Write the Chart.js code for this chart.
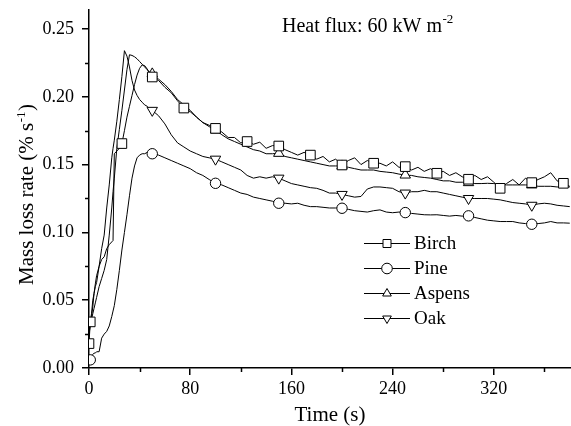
<!DOCTYPE html>
<html><head><meta charset="utf-8">
<script src="https://cdn.jsdelivr.net/npm/chart.js@4.4.0/dist/chart.umd.min.js"></script>
<style>html,body{margin:0;padding:0;background:#fff;overflow:hidden}</style>
</head><body>
<canvas id="c" width="571" height="426" style="display:block;width:571px;height:426px"></canvas>
<script>
const time = [0,1,2,3,4,5,6,8,10,12,14,16,18,19,20,22,24,26,28,30,32,34,36,38,40,42,44,46,48,50,
  55,60,65,70,75,80,85,90,95,100,105,110,115,120,125,130,135,140,145,150,
  155,160,165,170,175,180,185,190,195,200,205,210,215,220,225,230,235,240,245,250,
  255,260,265,270,275,280,285,290,295,300,305,310,315,320,325,330,335,340,345,350,
  355,360,365,370,375,380];

const birch = [0.018,0.034,0.038,0.045,0.055,0.062,0.068,0.075,0.080,0.082,0.088,0.091,0.093,0.094,0.158,0.160,0.162,0.1655,0.175,0.185,0.193,0.201,0.209,0.216,0.221,0.2235,0.223,0.2205,0.217,0.2146,
  0.212,0.207,0.203,0.197,0.1917,0.189,0.185,0.181,0.179,0.1767,
  0.174,0.170,0.170,0.166,0.167,0.165,0.1665,0.162,0.164,0.1637,
  0.161,0.159,0.157,0.159,0.157,0.154,0.156,0.152,0.154,0.1497,
  0.153,0.155,0.150,0.153,0.151,0.151,0.149,0.152,0.148,0.1485,
  0.146,0.148,0.145,0.147,0.1436,0.145,0.142,0.144,0.141,0.1392,
  0.142,0.139,0.141,0.137,0.1325,0.136,0.139,0.135,0.140,0.1367,
  0.139,0.141,0.144,0.138,0.1362,0.134];

const pine = [0.005,0.006,0.008,0.010,0.011,0.011,0.012,0.012,0.022,0.025,0.027,0.031,0.038,0.042,0.046,0.058,0.072,0.087,0.100,0.113,0.127,0.140,0.149,0.155,0.157,0.158,0.158,0.159,0.1585,0.158,
  0.157,0.155,0.153,0.151,0.149,0.147,0.144,0.142,0.139,0.1362,
  0.135,0.133,0.131,0.129,0.128,0.126,0.125,0.124,0.123,0.1215,
  0.1215,0.121,0.1215,0.120,0.119,0.119,0.1185,0.118,0.118,0.1178,
  0.117,0.116,0.1155,0.115,0.116,0.1166,0.115,0.1145,0.115,0.1146,
  0.114,0.1135,0.113,0.1129,0.113,0.1125,0.112,0.1125,0.112,0.1122,
  0.111,0.110,0.109,0.1085,0.108,0.108,0.108,0.107,0.1065,0.106,
  0.1065,0.107,0.108,0.107,0.107,0.1068];

const aspens = [0.025,0.031,0.036,0.040,0.044,0.048,0.052,0.060,0.066,0.072,0.080,0.098,0.118,0.130,0.140,0.162,0.176,0.190,0.205,0.220,0.231,0.2305,0.2295,0.228,0.226,0.224,0.222,0.220,0.218,0.2169,
  0.213,0.209,0.204,0.198,0.194,0.190,0.185,0.181,0.178,0.1755,
  0.172,0.169,0.167,0.165,0.163,0.161,0.160,0.158,0.158,0.1583,
  0.156,0.155,0.154,0.153,0.152,0.151,0.150,0.149,0.149,0.149,
  0.148,0.147,0.146,0.146,0.146,0.145,0.1445,0.144,0.143,0.1423,
  0.142,0.141,0.1405,0.140,0.139,0.138,0.138,0.137,0.137,0.1367,
  0.136,0.136,0.1362,0.136,0.1355,0.135,0.135,0.135,0.135,0.135,
  0.134,0.134,0.134,0.1335,0.1335,0.1335];

const oak = [0.025,0.035,0.040,0.050,0.055,0.060,0.063,0.075,0.088,0.098,0.118,0.135,0.155,0.162,0.168,0.182,0.198,0.215,0.234,0.230,0.222,0.212,0.205,0.201,0.198,0.196,0.194,0.193,0.191,0.190,
  0.186,0.180,0.172,0.166,0.163,0.160,0.158,0.156,0.155,0.154,
  0.152,0.150,0.148,0.146,0.142,0.140,0.141,0.140,0.141,0.140,
  0.138,0.136,0.135,0.134,0.133,0.1325,0.131,0.129,0.129,0.128,
  0.127,0.126,0.1265,0.132,0.1335,0.1335,0.133,0.1325,0.130,0.129,
  0.130,0.130,0.131,0.130,0.130,0.129,0.128,0.127,0.126,0.125,
  0.125,0.125,0.125,0.1245,0.124,0.123,0.122,0.1215,0.121,0.120,
  0.121,0.1215,0.121,0.120,0.1195,0.119];

const seriesNames = ['Birch','Pine','Aspens','Oak'];
const birchMarks = [0,1,26,50,75,100,125,150,175,200,225,250,275,300,325,350,375];
const pineMarks = [1,50,100,150,200,250,300,350];
const aspensMarks = [50,100,150,200,250,300,350];
const oakMarks = [50,100,150,200,250,300,350];

const xTicks = [0,80,160,240,320];
const xMinor = [40,120,200,280,360];
const yTicks = [0,0.05,0.10,0.15,0.20,0.25];
const yMinor = [0.025,0.075,0.125,0.175,0.225];

const FONT = '"Liberation Serif","Times New Roman",serif';

function makeSet(label, vals, marks, style, rot, r) {
  return {
    label,
    data: time.map((t, i) => ({x: t, y: vals[i]})),
    borderColor: '#000', borderWidth: 1, tension: 0,
    pointStyle: style, rotation: rot,
    pointRadius: ctx => marks.includes(time[ctx.dataIndex]) ? r : 0,
    pointHoverRadius: 0,
    pointBackgroundColor: '#fff', pointBorderColor: '#000', pointBorderWidth: 1,
    legendStyle: style, legendRot: rot
  };
}

function drawMark(ctx, style, rot, x, y, r) {
  ctx.beginPath();
  if (style === 'rect') {
    ctx.rect(x - r, y - r, 2 * r, 2 * r);
  } else if (style === 'circle') {
    ctx.arc(x, y, r, 0, Math.PI * 2);
  } else {
    const s = rot ? -1 : 1;
    ctx.moveTo(x, y - s * r);
    ctx.lineTo(x - r * 0.866, y + s * r * 0.5);
    ctx.lineTo(x + r * 0.866, y + s * r * 0.5);
  }
  ctx.closePath();
  ctx.fillStyle = '#fff'; ctx.fill();
  ctx.strokeStyle = '#000'; ctx.lineWidth = 1; ctx.stroke();
}

const extras = {
  id: 'extras',
  afterDraw(chart) {
    const ctx = chart.ctx, xs = chart.scales.x, ys = chart.scales.y;
    ctx.save();
    ctx.strokeStyle = '#000'; ctx.lineWidth = 1.5;
    xMinor.forEach(v => {
      const px = Math.round(xs.getPixelForValue(v)) + 0.5;
      ctx.beginPath(); ctx.moveTo(px, xs.top); ctx.lineTo(px, xs.top + 4); ctx.stroke();
    });
    yMinor.forEach(v => {
      const py = Math.round(ys.getPixelForValue(v)) + 0.5;
      ctx.beginPath(); ctx.moveTo(ys.right, py); ctx.lineTo(ys.right - 4, py); ctx.stroke();
    });
    // legend
    const sizes = [4, 5.3, 5, 5];
    chart.data.datasets.forEach((ds, i) => {
      const y = 243.5 + 25 * i;
      ctx.strokeStyle = '#000'; ctx.lineWidth = 1;
      ctx.beginPath(); ctx.moveTo(364, y); ctx.lineTo(410, y); ctx.stroke();
      drawMark(ctx, ds.legendStyle, ds.legendRot, 387, y, sizes[i]);
      ctx.fillStyle = '#000';
      ctx.font = '19px ' + FONT;
      ctx.textAlign = 'left'; ctx.textBaseline = 'middle';
      ctx.fillText(ds.label, 414, y + 1);
    });
    // heat flux annotation
    ctx.fillStyle = '#000';
    ctx.textBaseline = 'alphabetic'; ctx.textAlign = 'left';
    ctx.font = '20px ' + FONT;
    const t1 = 'Heat flux: 60 kW m';
    ctx.fillText(t1, 282, 31.5);
    const w1 = ctx.measureText(t1).width;
    ctx.font = '13px ' + FONT;
    ctx.fillText('-2', 282 + w1 + 0.5, 23);
    // y title
    ctx.translate(33, 285);
    ctx.rotate(-Math.PI / 2);
    ctx.font = '21px ' + FONT;
    const a = 'Mass loss rate (% s';
    ctx.fillText(a, 0, 0);
    const wa = ctx.measureText(a).width;
    ctx.font = '13px ' + FONT;
    ctx.fillText('-1', wa + 0.5, -8);
    const wb = ctx.measureText('-1').width;
    ctx.font = '21px ' + FONT;
    ctx.fillText(')', wa + wb + 1, 0);
    ctx.restore();
  }
};

new Chart(document.getElementById('c'), {
  type: 'line',
  data: {
    datasets: [
      makeSet(seriesNames[0], birch, birchMarks, 'rect', 0, 6.8),
      makeSet(seriesNames[1], pine, pineMarks, 'circle', 0, 5.2),
      makeSet(seriesNames[2], aspens, aspensMarks, 'triangle', 0, 6),
      makeSet(seriesNames[3], oak, oakMarks, 'triangle', 180, 6)
    ]
  },
  options: {
    responsive: false, animation: false, devicePixelRatio: 1,
    layout: {padding: 0, autoPadding: false},
    plugins: {legend: {display: false}, tooltip: {enabled: false}},
    events: [],
    scales: {
      x: {
        type: 'linear', min: 0, max: 381,
        afterBuildTicks: s => { s.ticks = xTicks.map(v => ({value: v})); },
        afterFit: s => { s.height = 58; s.paddingLeft = 0; s.paddingRight = 0; },
        grid: {display: true, drawOnChartArea: false, drawTicks: true, tickLength: 7, color: '#000', lineWidth: 1.5},
        border: {display: true, color: '#000', width: 1.5},
        ticks: {color: '#000', padding: 3, font: {family: FONT, size: 18}, maxRotation: 0, callback: v => String(v)},
        title: {display: true, text: 'Time (s)', color: '#000', font: {family: FONT, size: 21, lineHeight: 1}, padding: {top: 0, bottom: 0}}
      },
      y: {
        type: 'linear', min: 0, max: 0.264,
        afterBuildTicks: s => { s.ticks = yTicks.map(v => ({value: v})); },
        afterFit: s => { s.width = 89; s.paddingTop = 10; s.paddingBottom = 0; },
        grid: {display: true, drawOnChartArea: false, drawTicks: true, tickLength: 7, color: '#000', lineWidth: 1.5},
        border: {display: true, color: '#000', width: 1.5},
        ticks: {color: '#000', padding: 8, font: {family: FONT, size: 18}, callback: v => v.toFixed(2)}
      }
    }
  },
  plugins: [extras]
});
</script>
</body></html>
